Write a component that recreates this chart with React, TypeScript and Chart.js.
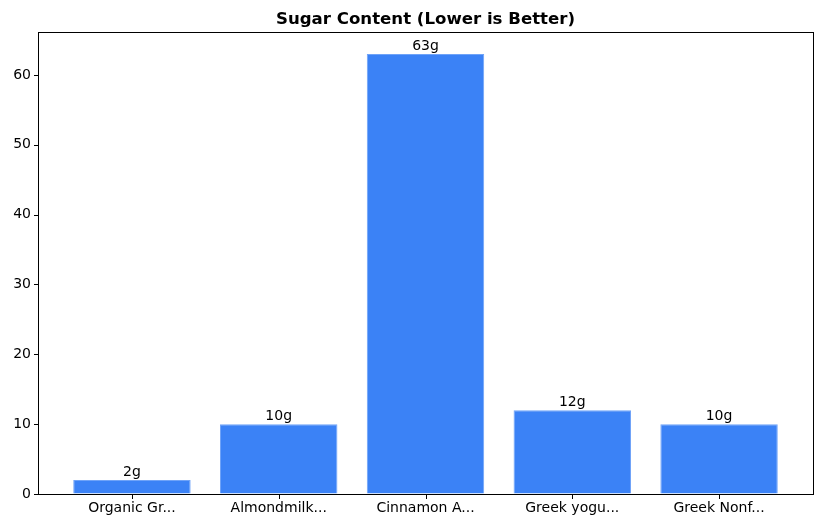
import { useEffect, useRef } from "react"
import { Chart, registerables } from "chart.js"

Chart.register(...registerables)

const categories = ["Organic Gr...", "Almondmilk...", "Cinnamon A...", "Greek yogu...", "Greek Nonf..."]
const sugarGrams = [2, 10, 63, 12, 10]
const yTicks = [0, 10, 20, 30, 40, 50, 60]
const chartTitle = "Sugar Content (Lower is Better)"

const FONT = "'DejaVu Sans', sans-serif"

// draws the box, tick marks, the title and the value labels like matplotlib does
const extrasPlugin = {
  id: "extras",
  afterDatasetsDraw(chart: Chart) {
    const { ctx, chartArea, scales } = chart
    ctx.save()
    ctx.strokeStyle = "#000"
    ctx.lineWidth = 1
    ctx.strokeRect(chartArea.left + 0.5, chartArea.top + 0.5, chartArea.right - chartArea.left, chartArea.bottom - chartArea.top)

    // outward tick marks
    ctx.beginPath()
    categories.forEach((_, i) => {
      const x = Math.round(scales.x.getPixelForValue(i)) + 0.5
      ctx.moveTo(x, chartArea.bottom + 1)
      ctx.lineTo(x, chartArea.bottom + 5)
    })
    yTicks.forEach((v) => {
      const y = Math.round(scales.y.getPixelForValue(v)) + 0.5
      ctx.moveTo(chartArea.left, y)
      ctx.lineTo(chartArea.left - 4, y)
    })
    ctx.stroke()

    ctx.fillStyle = "#000"
    ctx.textAlign = "center"
    ctx.textBaseline = "bottom"
    ctx.font = `14px ${FONT}`
    const meta = chart.getDatasetMeta(0)
    meta.data.forEach((bar: any, i: number) => {
      ctx.fillText(`${sugarGrams[i]}g`, bar.x, bar.y - 0.5)
    })

    ctx.font = `bold 16.6px ${FONT}`
    ctx.textBaseline = "alphabetic"
    ctx.fillText(chartTitle, (chartArea.left + chartArea.right) / 2, 24)
    ctx.restore()
  },
}

export default function App() {
  const chartRef = useRef<HTMLCanvasElement>(null)
  const chartInstance = useRef<Chart | null>(null)

  useEffect(() => {
    document.body.style.margin = "0"
    if (!chartRef.current) return
    if (chartInstance.current) chartInstance.current.destroy()

    const ctx = chartRef.current.getContext("2d")
    if (!ctx) return

    chartInstance.current = new Chart(ctx, {
      type: "bar",
      data: {
        datasets: [
          {
            data: sugarGrams.map((v, i) => ({ x: i, y: v })),
            backgroundColor: "#3b82f6",
            borderColor: "#6fa3f8",
            borderWidth: 1,
            barPercentage: 0.8,
            categoryPercentage: 1,
          },
        ],
      },
      options: {
        responsive: false,
        animation: false,
        layout: { padding: { left: 0, top: 32, right: 9, bottom: 0 } },
        plugins: {
          legend: { display: false },
          title: { display: false },
          tooltip: { enabled: false },
        },
        scales: {
          x: {
            type: "linear",
            min: -0.64,
            max: 4.64,
            offset: false,
            afterBuildTicks: (axis: any) => {
              axis.ticks = categories.map((_, i) => ({ value: i }))
            },
            afterFit: (axis: any) => {
              axis.height = 34
            },
            grid: { offset: false, drawOnChartArea: false, drawTicks: true, tickLength: 4, color: "rgba(0,0,0,0)" },
            border: { display: false },
            ticks: {
              color: "#000",
              font: { family: FONT, size: 14 },
              padding: 2,
              maxRotation: 0,
              autoSkip: false,
              callback: (v: any) => categories[v] ?? "",
            },
          },
          y: {
            min: 0,
            max: 66.15,
            afterBuildTicks: (axis: any) => {
              axis.ticks = yTicks.map((v) => ({ value: v }))
            },
            afterFit: (axis: any) => {
              axis.width = 38
            },
            grid: { drawOnChartArea: false, drawTicks: true, tickLength: 4, color: "rgba(0,0,0,0)" },
            border: { display: false },
            ticks: {
              color: "#000",
              font: { family: FONT, size: 14 },
              padding: 3,
            },
          },
        },
      },
      plugins: [extrasPlugin],
    } as any)

    return () => {
      if (chartInstance.current) {
        chartInstance.current.destroy()
        chartInstance.current = null
      }
    }
  }, [])

  return (
    <div style={{ width: 822, height: 528, background: "#fff" }}>
      <canvas ref={chartRef} width={822} height={528} style={{ width: 822, height: 528 }} />
    </div>
  )
}
